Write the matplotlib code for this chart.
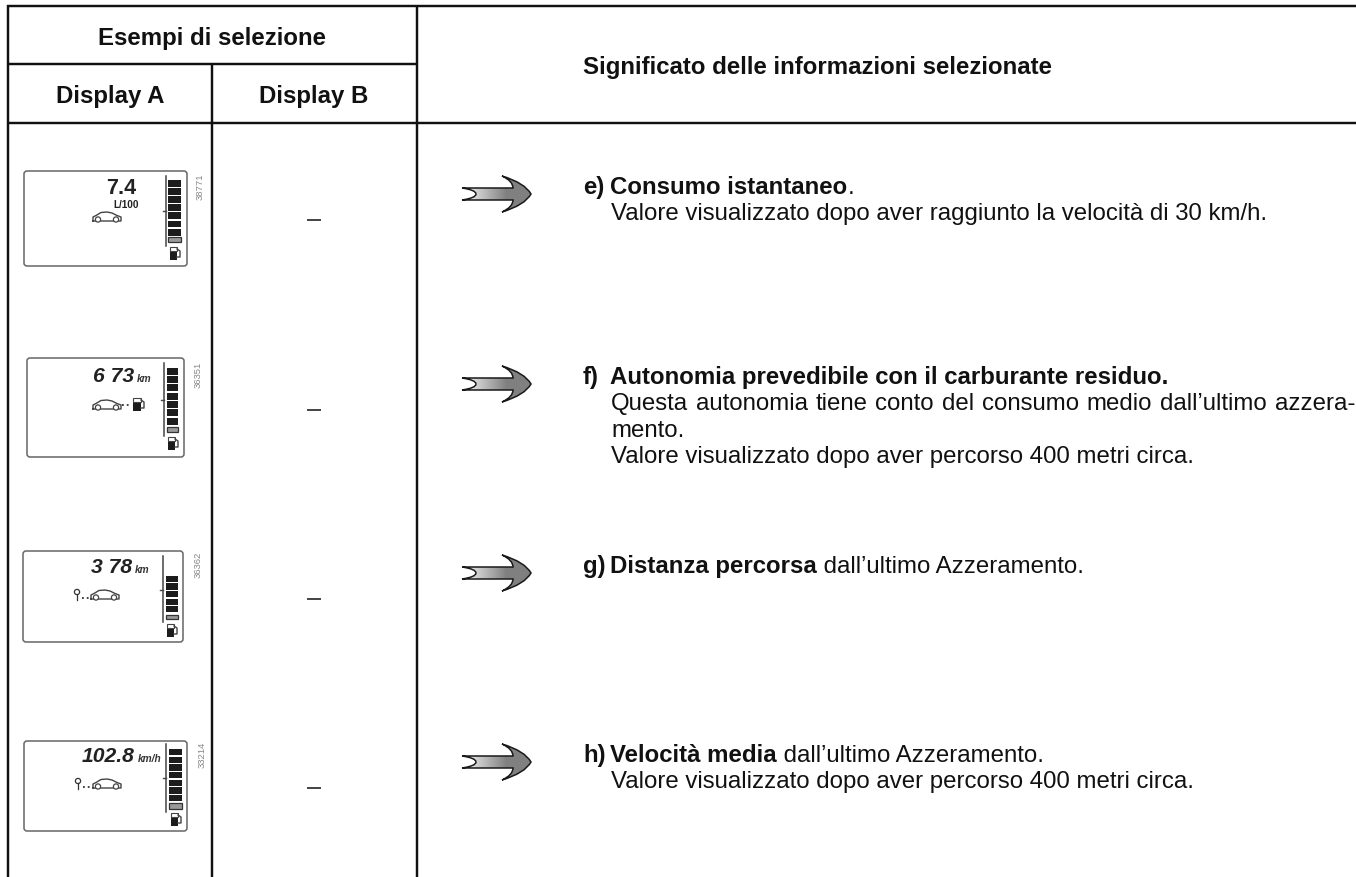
import matplotlib
matplotlib.use("Agg")
import matplotlib.pyplot as plt
from matplotlib.patches import FancyBboxPatch, Rectangle, PathPatch, Circle
from matplotlib.path import Path
import numpy as np

plt.rcParams['font.family'] = ['Liberation Sans', 'DejaVu Sans']

W, H = 1356, 878
header_top = "Esempi di selezione"
header_a = "Display A"
header_b = "Display B"
header_right = "Significato delle informazioni selezionate"

readouts = ["7.4", "6 73", "3 78", "102.8"]
units = ["L/100", "km", "km", "km/h"]
codes = ["38771", "36351", "36362", "33214"]
dark_bars = [7, 7, 5, 7]

labels = ["e)", "f)", "g)", "h)"]
bold_parts = ["Consumo istantaneo", "Autonomia prevedibile con il carburante residuo.",
              "Distanza percorsa", "Velocità media"]
tail_parts = [".", "", " dall’ultimo Azzeramento.", " dall’ultimo Azzeramento."]
body_lines = [
    ["Valore visualizzato dopo aver raggiunto la velocità di 30 km/h."],
    ["Questa autonomia tiene conto del consumo medio dall’ultimo azzera-",
     "mento.",
     "Valore visualizzato dopo aver percorso 400 metri circa."],
    [],
    ["Valore visualizzato dopo aver percorso 400 metri circa."],
]

# layout (pixels)
panels = [(24, 172, 187, 267), (27, 359, 184, 458), (23, 552, 183, 643), (24, 742, 187, 832)]
dash_y = [221, 411, 600, 789]
baselines = [194, 384, 573, 762]
read_right = [136, 134, 132, 135]
read_base = [194, 382, 573, 762]
unit_left = [113, 137, 135, 138]
unit_base = [208, 382, 573, 762]
code_pos = [(200, 187), (198, 375), (198, 565), (202, 755)]
bar_geo = [  # spine x, bar x0, bar x1, top, dark bottom, hollow0, hollow1, spine0, spine1, tick, pump x, pump y
    (166, 168, 181, 180, 237, 238, 243, 177, 247, 212, 170, 248),
    (164, 167, 178, 368, 426, 428, 433, 364, 437, 401, 168, 438),
    (163, 166, 178, 576, 614, 616, 620, 557, 623, 591, 167, 625),
    (166, 169, 182, 749, 803, 804, 810, 745, 813, 779, 171, 814),
]
car_pos = [(107, 218), (107, 406), (105, 596), (107, 785)]
key_x = [None, None, 77, 78]
justify_right = 1355

fig = plt.figure(figsize=(W / 100, H / 100), dpi=100)
ax = fig.add_axes([0, 0, 1, 1])
ax.set_xlim(0, W)
ax.set_ylim(H, 0)
ax.axis("off")

INK = "#111111"
def line(x0, y0, x1, y1):
    ax.plot([x0, x1], [y0, y1], color=INK, lw=1.75, solid_capstyle="butt")

line(6.5, 6.8, W, 6.8)
line(6.5, 65, 416, 65)
line(6.5, 124.2, W, 124.2)
line(7.5, 6, 7.5, H)
line(211.7, 65, 211.7, H)
line(416.7, 6, 416.7, H)

fs = 17.3
ax.text(212, 45, header_top, ha="center", va="baseline", fontsize=fs, weight="bold", color=INK)
ax.text(110, 103, header_a, ha="center", va="baseline", fontsize=fs, weight="bold", color=INK)
ax.text(314, 103, header_b, ha="center", va="baseline", fontsize=fs, weight="bold", color=INK)
ax.text(583, 74, header_right, ha="left", va="baseline", fontsize=fs, weight="bold", color=INK)

renderer = fig.canvas.get_renderer()
spacing = 26.3

def justified(x, y, s, right):
    words = s.split(" ")
    probes = [ax.text(0, y, w, fontsize=fs) for w in words]
    widths = [p.get_window_extent(renderer).width for p in probes]
    for p in probes:
        p.remove()
    gap = (right - x - sum(widths)) / (len(words) - 1)
    for w, wd in zip(words, widths):
        ax.text(x, y, w, ha="left", va="baseline", fontsize=fs, color=INK)
        x += wd + gap

for y, lab, b, tail, body in zip(baselines, labels, bold_parts, tail_parts, body_lines):
    ax.text(583, y, lab, ha="left", va="baseline", fontsize=fs, weight="bold", color=INK)
    t = ax.text(610, y, b, ha="left", va="baseline", fontsize=fs, weight="bold", color=INK)
    if tail:
        ax.text(t.get_window_extent(renderer).x1, y, tail, ha="left", va="baseline", fontsize=fs, color=INK)
    for i, s in enumerate(body):
        yy = y + (i + 1) * spacing
        if s.endswith("-"):
            justified(611, yy, s, justify_right)
        else:
            ax.text(611, yy, s, ha="left", va="baseline", fontsize=fs, color=INK)

for y in dash_y:
    ax.plot([307, 321], [y, y], color=INK, lw=1.1, solid_capstyle="butt")

# Grey gradient arrows
grad = np.concatenate([np.linspace(0.97, 0.5, 46), np.full(24, 0.5)]).reshape(1, -1)
def arrow(cy):
    P = [(462, -6), (513, -6), (513, -13), (502, -18), (525, -11), (531, 0), (525, 11), (502, 18),
         (513, 13), (513, 6), (462, 6), (476, 4), (476, 0), (476, -4), (462, -6)]
    C = [Path.MOVETO, Path.LINETO, Path.CURVE3, Path.CURVE3, Path.CURVE3, Path.CURVE3, Path.CURVE3, Path.CURVE3,
         Path.CURVE3, Path.CURVE3, Path.LINETO, Path.CURVE3, Path.CURVE3, Path.CURVE3, Path.CURVE3]
    return Path([(x, cy + y) for x, y in P], C)

for y in baselines:
    patch = PathPatch(arrow(y + 1), fc="none", ec="#1a1a1a", lw=1.1, zorder=3)
    ax.add_patch(patch)
    im = ax.imshow(grad, extent=(462, 531, y + 19, y - 17), cmap="gray", vmin=0, vmax=1,
                   aspect="auto", zorder=2)
    im.set_clip_path(patch)
ax.set_xlim(0, W)
ax.set_ylim(H, 0)

GR = "#444444"
def car(cx, cy):
    xs = np.array([-14, -14, -11, -6, 0, 5, 10, 14, 14, -14]) + cx
    ys = np.array([4, 0, -1.5, -4.5, -5, -4, -1.5, 0, 4, 4]) + cy
    ax.plot(xs, ys, color=GR, lw=1.0)
    for dx in (-9, 9):
        ax.add_patch(Circle((cx + dx, cy + 2.5), 2.6, fc="white", ec=GR, lw=0.9, zorder=4))

def pump(x, y, w=7, h=13):
    ax.add_patch(Rectangle((x, y + 4), w, h - 4, fc="#1c1c1c", ec="none"))
    ax.add_patch(Rectangle((x, y), w, 4, fc="white", ec=GR, lw=0.8))
    ax.plot([x + w, x + w + 3, x + w + 3, x + w], [y + 2, y + 4, y + h - 3, y + h - 3], color=GR, lw=1.0)

for k in range(4):
    l, t, r, b = panels[k]
    ax.add_patch(FancyBboxPatch((l + 3, t + 3), r - l - 6, b - t - 6, boxstyle="round,pad=3,rounding_size=3",
                                fc="white", ec="#666666", lw=1.1))
    cx, cy = code_pos[k]
    ax.text(cx, cy, codes[k], rotation=90, ha="center", va="center", fontsize=6.8, color="#888888")

    sx, x0, x1, top, bot, h0, h1, s0, s1, tick, px, py = bar_geo[k]
    ax.plot([sx, sx], [s0, s1], color=GR, lw=1.1)
    ax.plot([sx - 3, sx], [tick, tick], color=GR, lw=1.0)
    ax.add_patch(Rectangle((x0, h0), x1 - x0, h1 - h0, fc="#999999", ec="#333333", lw=0.9))
    n = dark_bars[k]
    pitch = (bot - top) / n
    for i in range(n):
        ax.add_patch(Rectangle((x0, bot - pitch * (i + 1) + 0.8), x1 - x0, pitch - 1.3, fc="#1c1c1c", ec="none"))
    pump(px, py)

    car(*car_pos[k])
    if k == 0:
        ax.text(read_right[k], read_base[k], readouts[k], ha="right", va="baseline", fontsize=15.5, weight="bold", color="#222222")
        ax.text(unit_left[k], unit_base[k], units[k], ha="left", va="baseline", fontsize=7.2, weight="bold", color="#222222")
    else:
        ax.text(read_right[k], read_base[k], readouts[k], ha="right", va="baseline", fontsize=15.2, weight="bold", style="italic", color="#222222")
        ax.text(unit_left[k], unit_base[k], units[k], ha="left", va="baseline", fontsize=7.3, weight="bold", style="italic", color="#333333")
    if k == 1:
        ax.plot([122, 131], [406, 406], color="#333333", lw=1.3, ls=":")
        pump(133, 399, w=8, h=13)
    if key_x[k] is not None:
        kx = key_x[k]
        ky = car_pos[k][1]
        ax.add_patch(Circle((kx, ky - 3), 2.6, fc="white", ec="#333333", lw=0.9))
        ax.plot([kx, kx], [ky - 0.5, ky + 5], color="#333333", lw=0.9)
        ax.plot([kx + 5, kx + 12], [ky + 3, ky + 3], color="#333333", lw=1.3, ls=":")

fig.savefig("out.png", dpi=100)
